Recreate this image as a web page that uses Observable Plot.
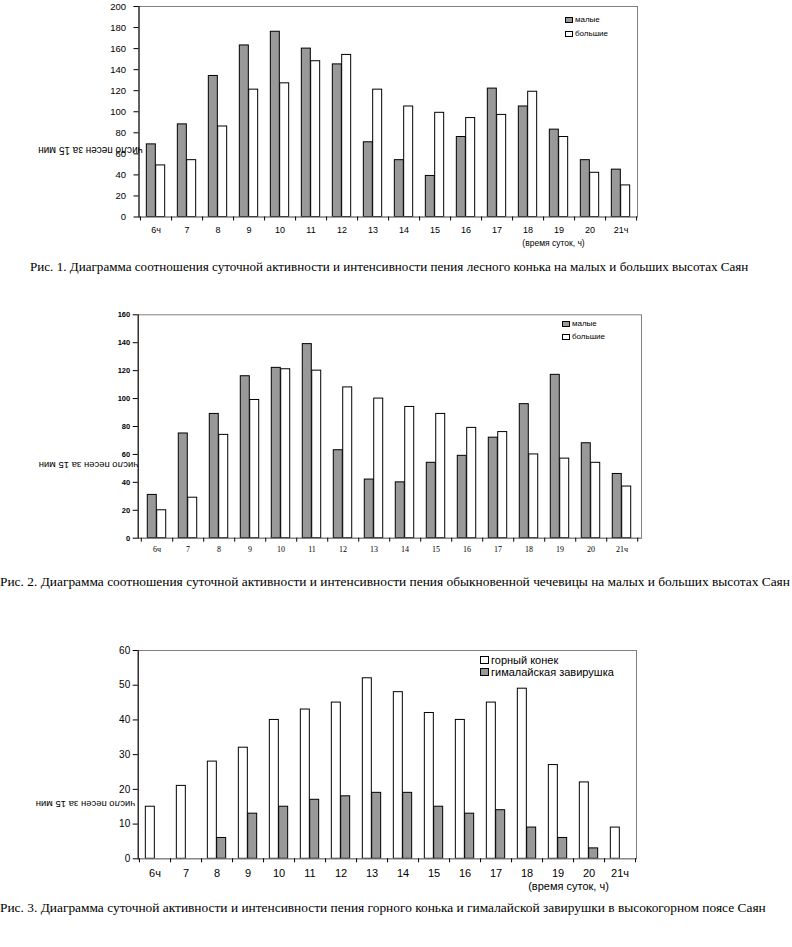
<!DOCTYPE html>
<html><head><meta charset="utf-8">
<script src="https://cdn.jsdelivr.net/npm/d3@7"></script>
<script src="https://cdn.jsdelivr.net/npm/@observablehq/plot@0.6"></script>
<style>
body{margin:0;background:#fff;}
#root{position:relative;width:792px;height:947px;overflow:hidden;background:#fff;}
.chart{position:absolute;left:0;}
.cap{position:absolute;font-family:"Liberation Serif","Times New Roman",serif;white-space:nowrap;line-height:14px;color:#000;}
.leg{position:absolute;font-family:"Liberation Sans",Arial,sans-serif;white-space:nowrap;color:#000;}
.leg div{display:flex;align-items:center;}
.sw{display:inline-block;border:1px solid #000;box-sizing:border-box;margin-right:2px;}
</style></head><body><div id="root"></div>
<script>
const hours = ["6ч","7","8","9","10","11","12","13","14","15","16","17","18","19","20","21ч"];

// Рис. 1 — лесной конёк
const series1 = ["малые", "большие"];
const maliye1  = [69, 88, 134, 163, 176, 160, 145, 71, 54, 39, 76, 122, 105, 83, 54, 45];
const bolshie1 = [49, 54, 86, 121, 127, 148, 154, 121, 105, 99, 94, 97, 119, 76, 42, 30];

// Рис. 2 — обыкновенная чечевица
const series2 = ["малые", "большие"];
const maliye2  = [31, 75, 89, 116, 122, 139, 63, 42, 40, 54, 59, 72, 96, 117, 68, 46];
const bolshie2 = [20, 29, 74, 99, 121, 120, 108, 100, 94, 89, 79, 76, 60, 57, 54, 37];

// Рис. 3 — горный конёк и гималайская завирушка
const series3 = ["горный конек", "гималайская завирушка"];
const gornyi3   = [15, 21, 28, 32, 40, 43, 45, 52, 48, 42, 40, 45, 49, 27, 22, 9];
const zavirush3 = [0, 0, 6, 13, 15, 17, 18, 19, 19, 15, 13, 14, 9, 6, 3, 0];

const yTicks1 = d3.range(0, 201, 20);
const yTicks2 = d3.range(0, 161, 20);
const yTicks3 = d3.range(0, 61, 10);

const ylabel = "число песен за 15 мин";
const xcaption = "(время суток, ч)";
const captions = [
  "Рис. 1. Диаграмма соотношения суточной активности и интенсивности пения лесного конька на малых и больших высотах Саян",
  "Рис. 2. Диаграмма соотношения суточной активности и интенсивности пения обыкновенной чечевицы на малых и больших высотах Саян",
  "Рис. 3. Диаграмма суточной активности и интенсивности пения горного конька и гималайской завирушки в высокогорном поясе Саян"
];

const GRAY = "#999999";
const root = document.getElementById("root");

function makeChart(c) {
  const width = 792;
  const step = (width - c.ml - c.mr) / hours.length;
  const bw = step * 0.3;
  const data = [];
  c.series.forEach((s, si) => c.values[si].forEach((v, i) => data.push({hour: hours[i], series: s, value: v})));
  const midY = (c.mt + (c.height - c.mb)) / 2;
  const marks = [
    Plot.frame({stroke: "#808080"}),
    ...c.series.map((s, si) => Plot.barY(data.filter(d => d.series === s), {
      x: "hour", y: "value", fill: c.colors[si], stroke: "#000", strokeWidth: 1,
      dx: si === 0 ? -bw / 2 : bw / 2
    })),
    Plot.ruleY([0], {stroke: "#808080"}),
    Plot.frame({anchor: "left", stroke: "#000"}),
    Plot.axisY({ticks: c.yTicks, tickSize: 5, tickPadding: c.yPad, fontSize: c.yFont, fontFamily: c.yFamily, fontWeight: c.yWeight || "normal", label: null}),
    Plot.axisX({tickSize: 0, tickPadding: c.xPad, fontSize: c.xFont, fontFamily: c.xFamily, label: null}),
    Plot.axisX({tickSize: 4, tickFormat: () => "", dx: step / 2, label: null}),
    Plot.axisX({ticks: [hours[0]], tickSize: 4, tickFormat: () => "", dx: -step / 2, label: null}),
    Plot.text([ylabel], {frameAnchor: "left", rotate: 180, dx: c.ylx - c.ml, dy: (c.yly - c.top) - midY, fontSize: c.ylFont, fontFamily: "Liberation Sans, Arial, sans-serif", textAnchor: "middle", fill: "#000"})
  ];
  if (c.xcap) {
    marks.push(Plot.text([xcaption], {frameAnchor: "bottom-left", dx: c.xcx - c.ml, dy: (c.xcy - c.top) - (c.height - c.mb), fontSize: c.xcFont, fontFamily: "Liberation Sans, Arial, sans-serif", textAnchor: "middle", fill: "#000"}));
  }
  const svg = Plot.plot({
    width, height: c.height,
    marginLeft: c.ml, marginRight: c.mr, marginTop: c.mt, marginBottom: c.mb,
    style: {background: "transparent", color: "#000", fontFamily: "Liberation Sans, Arial, sans-serif", overflow: "visible"},
    x: {domain: hours, paddingInner: 0.7, paddingOuter: 0.35, label: null},
    y: {domain: [0, c.yMax], label: null},
    marks
  });
  svg.classList.add("chart");
  svg.style.top = c.top + "px";
  root.appendChild(svg);

  // legend
  const leg = document.createElement("div");
  leg.className = "leg";
  leg.style.left = c.legX + "px";
  leg.style.top = c.legY + "px";
  leg.style.fontSize = c.legFont + "px";
  leg.style.lineHeight = c.legLH + "px";
  c.series.forEach((s, si) => {
    const row = document.createElement("div");
    const sw = document.createElement("span");
    sw.className = "sw";
    sw.style.width = c.swW + "px";
    sw.style.height = c.swH + "px";
    sw.style.background = c.colors[si];
    row.appendChild(sw);
    row.appendChild(document.createTextNode(s));
    leg.appendChild(row);
  });
  root.appendChild(leg);
}

makeChart({top: 0, height: 260, mt: 6, mb: 43.5, ml: 138.5, mr: 155,
  yMax: 200, yTicks: yTicks1, series: series1, values: [maliye1, bolshie1], colors: [GRAY, "#fff"],
  yPad: 8, yFont: 9.5, xPad: 10, xFont: 9, ylFont: 10, ylx: 90, yly: 150,
  xcap: true, xcx: 553, xcy: 245, xcFont: 8.5,
  legX: 565, legY: 13, legFont: 8, legLH: 14, swW: 8, swH: 6});

makeChart({top: 300, height: 265, mt: 14.3, mb: 27.3, ml: 137.7, mr: 151,
  yMax: 160, yTicks: yTicks2, series: series2, values: [maliye2, bolshie2], colors: [GRAY, "#fff"],
  yPad: 3, yFont: 7.5, yWeight: "bold", xPad: 8.5, xFont: 8, xFamily: "Liberation Serif, Times New Roman, serif",
  ylFont: 9.5, ylx: 88, yly: 465, xcap: false,
  legX: 562, legY: 317, legFont: 8, legLH: 13, swW: 8, swH: 6});

makeChart({top: 640, height: 260, mt: 10, mb: 41.7, ml: 137.7, mr: 156,
  yMax: 60, yTicks: yTicks3, series: series3, values: [gornyi3, zavirush3], colors: ["#fff", GRAY],
  yPad: 3, yFont: 10, xPad: 10.5, xFont: 11, ylFont: 9.5, ylx: 85, yly: 804,
  xcap: true, xcx: 568, xcy: 889, xcFont: 11,
  legX: 480, legY: 654, legFont: 11, legLH: 12, swW: 9, swH: 8});

const capPos = [[30, 260, 13.1], [0, 575, 13.4], [0, 901, 13.4]];
captions.forEach((t, i) => {
  const d = document.createElement("div");
  d.className = "cap";
  d.style.left = capPos[i][0] + "px";
  d.style.top = capPos[i][1] + "px";
  d.style.fontSize = capPos[i][2] + "px";
  d.textContent = t;
  root.appendChild(d);
});
</script>
</body></html>
